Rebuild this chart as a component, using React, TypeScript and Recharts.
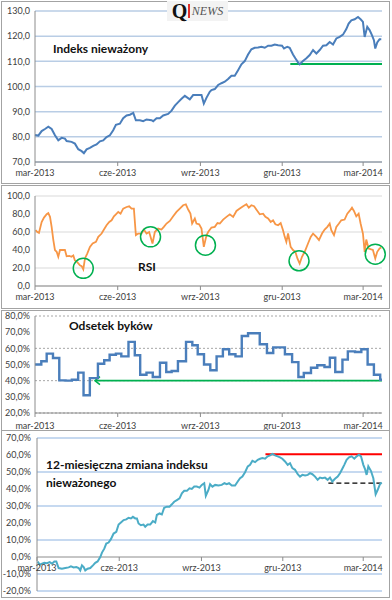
import React from 'react';
import { LineChart, Line, XAxis, YAxis, CartesianGrid, ReferenceLine, ReferenceDot } from 'recharts';

// ---- shared x axis (days since 1 Mar 2013) ----
const tickDays = [0, 92, 184, 275, 365];
const tickLabels = ['mar-2013', 'cze-2013', 'wrz-2013', 'gru-2013', 'mar-2014'];
const dayDomain = [0, 386];

// ---- Panel 1: Indeks nieważony ----
const indexDays = [
  0, 3.7, 7.4, 11.1, 14.8, 18.5, 22.2, 25.9, 29.6, 33.3,
  35.2, 40.7, 44.4, 48.1, 51.9, 54.4, 57.4, 61.1, 64.8, 68.5,
  72.2, 75.9, 79.6, 83.3, 87, 90, 94.4, 98.1, 101.9, 105.6,
  109.3, 112.2, 116.7, 120.4, 124.1, 129.6, 131.5, 135.2, 138.9, 142.6,
  148.1, 151.9, 155.6, 159.3, 163, 166.7, 172.2, 175.9, 181.5, 185.2,
  187.8, 190.7, 194.4, 196.3, 200, 203.7, 207.4, 211.1, 214.8, 218.5,
  222.2, 225.9, 229.6, 233.3, 237, 240.7, 244.4, 248.1, 251.9, 255.6,
  259.3, 263, 266.7, 270.4, 274.8, 277, 280.7, 283.3, 287, 289.6,
  292.6, 294.4, 298.1, 301.9, 305.6, 309.3, 313, 316.7, 320.4, 324.1,
  327.8, 331.5, 335.2, 338.9, 342.6, 346.3, 348.9, 351.9, 355.6, 359.3,
  362.2, 364.8, 366.7, 369.6, 372.2, 374.8, 377, 378.5, 380.7, 383.3,
  385.2,
];
const indexValues = [
  80.7, 80.5, 82.3, 83.1, 84.0, 83.1, 80.6, 78.6, 79.6, 79.3,
  78.3, 78.0, 77.3, 75.1, 74.3, 73.5, 75.0, 75.6, 76.4, 77.0,
  78.2, 78.6, 79.9, 80.6, 82.6, 84.8, 85.2, 87.4, 88.5, 88.8,
  89.5, 86.6, 86.6, 86.2, 86.9, 86.6, 86.2, 87.4, 87.4, 88.5,
  89.1, 90.4, 92.4, 93.8, 95.1, 96.3, 94.9, 96.6, 96.6, 96.6,
  93.2, 95.5, 97.9, 98.6, 99.0, 100.6, 101.3, 101.9, 103.0, 104.3,
  104.3, 106.5, 108.8, 110.1, 112.7, 114.8, 115.4, 115.5, 115.8, 115.4,
  116.2, 116.2, 116.7, 116.4, 116.2, 115.1, 115.8, 115.4, 112.7, 111.2,
  109.6, 108.8, 110.1, 111.2, 112.5, 114.5, 113.1, 114.5, 116.2, 116.4,
  117.7, 116.7, 119.1, 119.7, 120.6, 122.8, 125.0, 126.3, 126.7, 127.6,
  126.7, 125.7, 119.7, 123.7, 122.4, 120.4, 118.4, 115.1, 117.5, 118.8,
  118.8,
];
const indexTicks = [70, 80, 90, 100, 110, 120, 130];
const indexSupport = [284, 386, 108.9]; // from day, to day, level

// ---- Panel 2: RSI ----
const rsiDays = [
  0.7, 2.6, 4.4, 7.4, 10, 13, 14.8, 16.7, 18.5, 20.4,
  22.2, 24.1, 25.9, 27.8, 31.5, 33.3, 35.2, 38.1, 40.7, 42.6,
  44.4, 47, 50, 51.9, 53.7, 55.6, 58.1, 61.1, 64.1, 67.8,
  70.4, 74.1, 76.7, 79.6, 82.6, 85.2, 87.8, 90, 92.6, 95.2,
  98.1, 101.9, 104.8, 107.4, 110, 112.2, 114.8, 118.5, 121.1, 124.1,
  127, 130.7, 133.3, 137, 140.7, 143.3, 146.3, 150, 153.7, 157.4,
  161.1, 164.8, 167.8, 170.4, 172.9, 174.8, 177.8, 179.6, 182.6, 185.2,
  187.8, 190.7, 192.6, 196.3, 200, 203, 205.6, 209.3, 213, 216.7,
  220.4, 224.1, 227.8, 231.5, 235.2, 237.8, 240.7, 243.7, 247.4, 250,
  253.7, 256.3, 259.3, 262.2, 264.8, 267.4, 270.4, 273.3, 275.9, 277.8,
  279.6, 281.5, 284.4, 287, 289.6, 291.9, 294.4, 297, 300, 303.7,
  306.7, 309.3, 313, 315.9, 319.3, 322.2, 325.2, 327.8, 329.6, 332.6,
  335.2, 338.1, 340.7, 344.4, 347.4, 350, 352.6, 354.8, 357.4, 360,
  362.2, 364.8, 366.7, 368.5, 371.1, 374.1, 375.9, 378.5, 380.7, 383.3,
  385.2,
];
const rsiValues = [
  62, 60, 59, 71, 76, 79.7, 81, 76.8, 65.7, 51,
  39.9, 38, 32.5, 40, 40, 40, 33, 33.5, 32.5, 34,
  28.4, 26.6, 23, 22, 18.5, 30.6, 36, 43.5, 47.2, 49,
  54.6, 58.3, 62.7, 67.5, 71.2, 73, 77.5, 79.7, 82.3, 80.4,
  86, 87.8, 88.6, 86, 86, 56.5, 58.3, 58.3, 62.7, 58.3,
  60, 47.2, 60, 63.8, 62.7, 65.7, 69.4, 72.3, 77.5, 82.3,
  86, 89.7, 90.8, 85, 80.4, 69.4, 75, 69.4, 68.6, 63.8,
  43.5, 56, 60, 65, 65.7, 70, 69.4, 73.8, 76.8, 79.7,
  76.8, 83.4, 86, 88.6, 90.8, 87, 89.7, 88.6, 83.4, 79.7,
  80.4, 76.8, 75, 71.2, 73, 68.6, 67.5, 70, 62, 54.6,
  49, 58.3, 43.5, 40, 38, 30.6, 25, 32.5, 38, 47.2,
  54.6, 58.3, 54.6, 51, 58.3, 62.7, 65.7, 69.4, 62, 56.5,
  65.7, 69.4, 73, 73.8, 80.4, 83.4, 87, 83.4, 77.5, 80.4,
  69.4, 58.3, 38, 51.6, 41.7, 40.6, 40, 30.6, 38, 41.7,
  42.8,
];
const rsiTicks = [0, 20, 40, 60, 80, 100];
const rsiCircleDays = [53.7, 128.5, 189.6, 293.7, 378.5];
const rsiCircleValues = [19.6, 54.6, 45.4, 28, 35.4];

// ---- Panel 3: Odsetek byków (weekly) ----
const bullDays = [
  0, 7, 13, 20, 27, 34, 41, 48, 54, 61,
  70, 77, 83, 90, 96, 104, 111, 117, 124, 131,
  139, 146, 152, 159, 168, 175, 181, 188, 195, 202,
  209, 216, 223, 230, 237, 250, 258, 265, 278, 286,
  293, 299, 307, 314, 322, 328, 334, 342, 348, 356,
  363, 370, 377, 384, 386,
];
const bullValues = [
  50, 52, 56.7, 54, 40.2, 40, 40.6, 45, 31, 41.6,
  50.5, 52.6, 56, 56.7, 55, 64, 55.7, 43.7, 45, 42.3,
  51.1, 45.4, 46, 52, 64, 61.9, 56.3, 50, 46.4, 55,
  59.4, 56.3, 55, 67.6, 69.3, 62.5, 57.1, 60.6, 56.3, 51.5,
  42.3, 44.7, 48, 49.5, 48.5, 54.2, 45.4, 53, 58.1, 57.7,
  59.4, 50, 43.7, 40.6, 40.6,
];
const bullTicks = [20, 30, 40, 50, 60, 70, 80];
const bullArrow = [66.7, 386, 40]; // tip day, end day, level

// ---- Panel 4: 12-miesięczna zmiana ----
const chgDays = [
  0.7, 3, 5.6, 8.2, 11.2, 14.2, 16.8, 19.4, 21.6, 24.2,
  27.9, 31.7, 35.4, 38, 41, 44, 46.6, 48.4, 50.3, 52.2,
  54, 56.6, 59.6, 62.6, 65.2, 67.8, 70.8, 72.7, 75.3, 77.5,
  80.1, 82.7, 85.7, 88.7, 91.3, 93.9, 96.9, 99.9, 102.5, 105.1,
  107.3, 109.9, 111.8, 113.6, 116.2, 119.2, 121.1, 123.7, 126.7, 129.7,
  132.3, 134.1, 137.1, 139.7, 142.3, 145.3, 148.3, 150.9, 153.5, 156.5,
  159.5, 162.1, 164.7, 167.7, 170.6, 173.2, 175.9, 178.8, 181.8, 184.4,
  187.1, 188.9, 191.8, 193.7, 196.3, 199.3, 203, 206.7, 209.7, 212.3,
  214.9, 217.9, 221.6, 224.6, 227.2, 229.8, 232.8, 235.8, 238.4, 241,
  244, 247, 249.6, 252.2, 255.2, 258.1, 260.8, 263.4, 266.3, 269.3,
  271.9, 274.5, 277.5, 280.5, 283.1, 285.7, 288.7, 291.7, 294.3, 296.9,
  299.9, 302.9, 305.5, 308.1, 311.1, 314, 316.6, 319.2, 322.2, 325.2,
  327.8, 330.4, 333.4, 336.4, 339, 341.6, 343.8, 346.4, 349.1, 352,
  355, 357.6, 360.2, 362.5, 365.1, 366.9, 368.8, 370.7, 373.6, 376.3,
  378.9, 381.1, 383.7, 385.6,
];
const chgValues = [
  -2.6, -4.5, -3.9, -3.4, -3.6, -3.0, -3.9, -2.6, -2.6, -6.5,
  -6.9, -6.5, -6.1, -5.5, -6.1, -5.9, -6.5, -7.9, -4.9, -5.9,
  -7.9, -6.9, -6.5, -4.9, -3.4, -2.6, 0, 2.6, 4.9, 7.9,
  8.5, 10.5, 13.8, 14.8, 19.1, 20.3, 21.7, 22.1, 23.1, 22.7,
  23.7, 22.7, 22.7, 19.7, 18.7, 19.1, 17.8, 19.1, 19.1, 21.1,
  20.3, 24.7, 25.6, 25.0, 29.0, 29.6, 29.6, 31.0, 32.5, 33.5,
  34.5, 37.5, 38.9, 38.9, 40.4, 40.0, 41.4, 41.4, 40.8, 42.4,
  43.4, 36.0, 39.4, 42.8, 41.4, 42.4, 42.0, 42.4, 43.4, 42.8,
  43.4, 42.0, 42.0, 44.4, 46.3, 47.3, 49.9, 53.3, 54.2, 56.6,
  55.8, 57.2, 57.8, 58.2, 57.8, 59.2, 59.8, 60.6, 59.8, 59.2,
  58.6, 57.8, 56.2, 54.2, 55.2, 52.3, 51.3, 48.7, 47.3, 48.3,
  47.9, 48.3, 49.3, 48.7, 47.3, 45.4, 46.7, 46.3, 46.7, 45.4,
  46.7, 44.4, 46.0, 47.3, 49.3, 51.9, 54.2, 57.2, 58.6, 59.2,
  57.8, 59.2, 60.2, 59.2, 54.2, 51.9, 48.3, 53.3, 50.7, 46.3,
  36.9, 39.4, 42.8, 43.8,
];
const chgTicks = [-20, -10, 0, 10, 20, 30, 40, 50, 60, 70];
const chgHigh = [255.6, 386, 60.5];
const chgLow = [326, 386, 43.5];

// ---- helpers ----
const zip = (ds: number[], vs: number[]) => ds.map((d, i) => ({ d, v: vs[i] }));
const indexData = zip(indexDays, indexValues);
const rsiData = zip(rsiDays, rsiValues);
const bullData = zip(bullDays, bullValues);
const chgData = zip(chgDays, chgValues);

const FONT = 'Lato, "Open Sans", sans-serif';
const TICK = { fontSize: 9, fill: '#404040', fontFamily: FONT };
const AXIS = '#8c8c8c';
const fmtX = (d: number) => tickLabels[tickDays.indexOf(d)] ?? '';
const fmt1 = (v: number) => v.toFixed(1).replace('.', ',');
const fmtPct = (v: number) => fmt1(v) + '%';

// panel 4 geometry (zero-crossing x axis)
const C4_H = 167;
const C4_TOP = 7;
const C4_XH = 7;
const C4_PLOT_H = C4_H - C4_TOP - C4_XH;
const C4_ZERO = C4_TOP + (C4_PLOT_H * (70 - 0)) / (70 - -20);

const Tick4 = (props: any) => {
  const { x, payload } = props;
  return (
    <g>
      <line x1={x} x2={x} y1={C4_ZERO} y2={C4_ZERO + 4} stroke={AXIS} />
      <text x={x} y={C4_ZERO + 8} dy="0.71em" textAnchor="middle" fontSize={9} fill="#404040" fontFamily={FONT}>
        {fmtX(payload.value)}
      </text>
    </g>
  );
};

const ArrowShape = (props: any) => {
  const { x1, y1, x2, y2 } = props;
  const xl = Math.min(x1, x2);
  const xr = Math.max(x1, x2);
  return (
    <g>
      <line x1={xl} y1={y1} x2={xr} y2={y2} stroke="#00b050" strokeWidth={1.8} />
      <polyline points={`${xl + 5},${y1 - 4} ${xl},${y1} ${xl + 5},${y1 + 4}`} fill="none" stroke="#00b050" strokeWidth={1.5} />
    </g>
  );
};

const panelBox = (top: number, height: number): React.CSSProperties => ({
  position: 'absolute', left: 1, top, width: 389, height, boxSizing: 'border-box',
  border: '1px solid #a3a3a3', background: '#fff',
});

const title: React.CSSProperties = {
  position: 'absolute', fontFamily: FONT, fontWeight: 700, fontSize: 12, color: '#111', whiteSpace: 'nowrap', lineHeight: '16px',
};

export default function App() {
  return (
    <div style={{ position: 'absolute', left: 0, top: 0, width: 392, height: 600, background: '#fff', overflow: 'hidden' }}>
      {/* Panel 1 */}
      <div style={panelBox(1, 183)} />
      <div style={{ position: 'absolute', left: 0, top: 0 }}>
        <LineChart width={392} height={184} data={indexData} margin={{ top: 11, right: 10, bottom: 0, left: 0 }}>
          <CartesianGrid vertical={false} stroke="#b9cde5" strokeWidth={1.5} />
          <XAxis dataKey="d" type="number" domain={dayDomain} ticks={tickDays} tickFormatter={fmtX} interval={0}
            height={22} tick={TICK} tickSize={4} tickMargin={4} stroke={AXIS} />
          <YAxis type="number" domain={[70, 130]} ticks={indexTicks} tickFormatter={fmt1} width={35} tick={TICK}
            tickLine={false} tickSize={0} tickMargin={5} stroke={AXIS} />
          <ReferenceLine segment={[{ x: indexSupport[0], y: indexSupport[2] }, { x: indexSupport[1], y: indexSupport[2] }]}
            stroke="#00b050" strokeWidth={2} />
          <Line data={indexData} dataKey="v" type="linear" stroke="#4a7ebb" strokeWidth={2} dot={false} isAnimationActive={false} />
        </LineChart>
      </div>
      <div style={{ ...title, left: 53, top: 41 }}>Indeks nieważony</div>
      <div style={{ position: 'absolute', left: 167, top: 1, width: 61, height: 20, background: '#f3f3f3', display: 'flex', alignItems: 'center', justifyContent: 'center' }}>
        <span style={{ fontFamily: '"Liberation Serif", "DejaVu Serif", serif', fontWeight: 700, fontSize: 20, color: '#111', lineHeight: '20px' }}>Q</span>
        <span style={{ width: 1.5, height: 14, background: '#e0302a', margin: '0 2px 0 1px' }} />
        <span style={{ fontFamily: '"Liberation Serif", "DejaVu Serif", serif', fontStyle: 'italic', fontSize: 12, color: '#555', lineHeight: '20px' }}>NEWS</span>
      </div>

      {/* Panel 2 */}
      <div style={panelBox(185, 124)} />
      <div style={{ position: 'absolute', left: 0, top: 186 }}>
        <LineChart width={392} height={124} data={rsiData} margin={{ top: 10, right: 10, bottom: 0, left: 0 }}>
          <CartesianGrid vertical={false} stroke="#d9d9d9" strokeWidth={1} />
          <XAxis dataKey="d" type="number" domain={dayDomain} ticks={tickDays} tickFormatter={fmtX} interval={0}
            height={24} tick={TICK} tickSize={4} tickMargin={4} stroke={AXIS} />
          <YAxis type="number" domain={[0, 100]} ticks={rsiTicks} tickFormatter={fmt1} width={35} tick={TICK}
            tickLine={false} tickSize={0} tickMargin={5} stroke={AXIS} />
          <Line data={rsiData} dataKey="v" type="linear" stroke="#f79646" strokeWidth={1.8} dot={false} isAnimationActive={false} />
          {rsiCircleDays.map((d, i) => (
            <ReferenceDot key={i} x={d} y={rsiCircleValues[i]} r={10} fill="none" stroke="#00b050" strokeWidth={1.5} />
          ))}
        </LineChart>
      </div>
      <div style={{ ...title, left: 138, top: 259 }}>RSI</div>

      {/* Panel 3 */}
      <div style={panelBox(310, 121)} />
      <div style={{ position: 'absolute', left: 0, top: 310 }}>
        <LineChart width={392} height={121} data={bullData} margin={{ top: 6, right: 10, bottom: 0, left: 0 }}>
          <CartesianGrid vertical={false} stroke="#a6a6a6" strokeDasharray="2 2" strokeWidth={1} />
          <XAxis dataKey="d" type="number" domain={dayDomain} ticks={tickDays} tickFormatter={fmtX} interval={0}
            height={18} tick={TICK} tickSize={4} tickMargin={6} stroke={AXIS} />
          <YAxis type="number" domain={[20, 80]} ticks={bullTicks} tickFormatter={fmtPct} width={35} tick={TICK}
            tickLine={false} tickSize={0} tickMargin={5} stroke={AXIS} />
          <ReferenceLine segment={[{ x: bullArrow[0], y: bullArrow[2] }, { x: bullArrow[1], y: bullArrow[2] }]}
            shape={ArrowShape} />
          <Line data={bullData} dataKey="v" type="stepAfter" stroke="#4a7ebb" strokeWidth={2.4} dot={false} isAnimationActive={false} />
        </LineChart>
      </div>
      <div style={{ ...title, left: 69, top: 318 }}>Odsetek byków</div>

      {/* Panel 4 */}
      <div style={panelBox(430, 168)} />
      <div style={{ position: 'absolute', left: 0, top: 431 }}>
        <LineChart width={392} height={C4_H} data={chgData} margin={{ top: C4_TOP, right: 10, bottom: 0, left: 0 }}>
          <CartesianGrid vertical={false} stroke="#c6d9f0" strokeWidth={2} />
          <XAxis dataKey="d" type="number" domain={dayDomain} ticks={tickDays} interval={0}
            height={C4_XH} tick={Tick4} axisLine={false} tickLine={false} />
          <YAxis type="number" domain={[-20, 70]} ticks={chgTicks} tickFormatter={fmtPct} width={37} tick={TICK}
            tickLine={false} tickSize={0} tickMargin={6} stroke={AXIS} />
          <ReferenceLine y={0} stroke={AXIS} strokeWidth={1} />
          <ReferenceLine segment={[{ x: chgHigh[0], y: chgHigh[2] }, { x: chgHigh[1], y: chgHigh[2] }]}
            stroke="#ff0000" strokeWidth={2} />
          <ReferenceLine segment={[{ x: chgLow[0], y: chgLow[2] }, { x: chgLow[1], y: chgLow[2] }]}
            stroke="#000" strokeWidth={1.3} strokeDasharray="5 3" />
          <Line data={chgData} dataKey="v" type="linear" stroke="#4bacc6" strokeWidth={2} dot={false} isAnimationActive={false} />
        </LineChart>
      </div>
      <div style={{ ...title, left: 46, top: 456, lineHeight: '18px' }}>
        12-miesięczna zmiana indeksu<br />nieważonego
      </div>
    </div>
  );
}
